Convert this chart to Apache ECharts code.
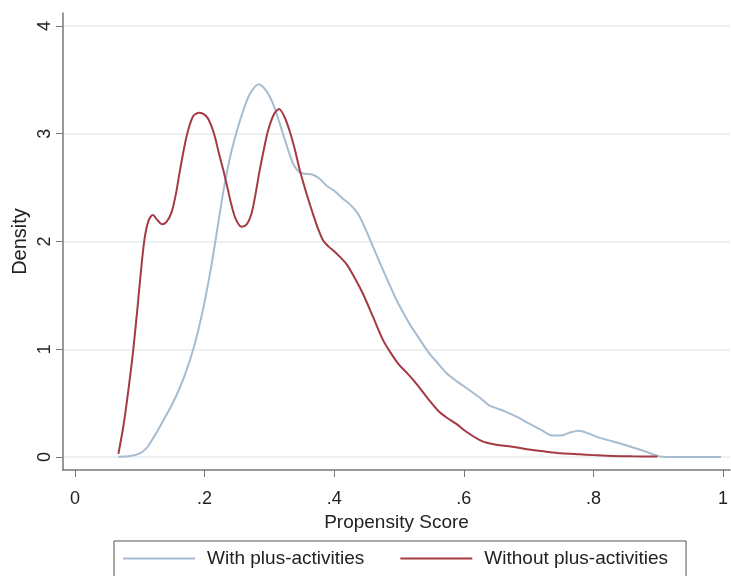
<!DOCTYPE html>
<html>
<head>
<meta charset="utf-8">
<title>Propensity score density</title>
<script src="https://cdn.jsdelivr.net/npm/echarts@6/dist/echarts.min.js"></script>
<style>
  html, body { margin: 0; padding: 0; background: #fff; }
  #densityChart { width: 731px; height: 576px; }
</style>
</head>
<body>

<!--density of the propensity score, two groups-->
<div id="densityChart"></div>

<script>
// with plus-activities
const withX = [0.067, 0.085, 0.100, 0.110, 0.120, 0.130, 0.140, 0.150, 0.160, 0.170, 0.180, 0.190,
  0.200, 0.210, 0.220, 0.230, 0.240, 0.250, 0.260, 0.270, 0.2835, 0.295, 0.3055, 0.313, 0.321,
  0.336, 0.345, 0.352, 0.367, 0.378, 0.388, 0.400, 0.413, 0.425, 0.4365, 0.448, 0.460, 0.478,
  0.496, 0.516, 0.530, 0.547, 0.560, 0.573, 0.590, 0.609, 0.625, 0.639, 0.652, 0.665, 0.683,
  0.701, 0.720, 0.737, 0.750, 0.765, 0.778, 0.792, 0.809, 0.830, 0.850, 0.866, 0.881, 0.895,
  0.906, 0.950, 0.997];
const withY = [0.003, 0.01, 0.034, 0.08, 0.17, 0.27, 0.38, 0.49, 0.62, 0.77, 0.95, 1.17,
  1.44, 1.76, 2.13, 2.50, 2.80, 3.03, 3.22, 3.37, 3.46, 3.40, 3.28, 3.15, 3.00,
  2.73, 2.65, 2.63, 2.62, 2.58, 2.52, 2.47, 2.40, 2.34, 2.26, 2.12, 1.95, 1.70,
  1.46, 1.24, 1.11, 0.96, 0.87, 0.78, 0.70, 0.62, 0.55, 0.48, 0.45, 0.42, 0.37,
  0.31, 0.25, 0.20, 0.20, 0.23, 0.245, 0.22, 0.18, 0.145, 0.11, 0.08, 0.05, 0.02,
  0.003, 0, 0];

// without plus-activities
const withoutX = [0.067, 0.075, 0.083, 0.090, 0.097, 0.103, 0.108, 0.114, 0.120, 0.127, 0.134, 0.141,
  0.149, 0.156, 0.162, 0.172, 0.182, 0.192, 0.203, 0.210, 0.216, 0.222, 0.229, 0.236, 0.241,
  0.248, 0.257, 0.265, 0.272, 0.278, 0.285, 0.292, 0.298, 0.307, 0.315, 0.323, 0.331, 0.339,
  0.347, 0.357, 0.367, 0.375, 0.383, 0.392, 0.400, 0.410, 0.419, 0.430, 0.444, 0.460, 0.475,
  0.488, 0.501, 0.514, 0.527, 0.545, 0.562, 0.575, 0.588, 0.605, 0.624, 0.637, 0.650, 0.675,
  0.700, 0.727, 0.750, 0.778, 0.800, 0.830, 0.860, 0.899];
const withoutY = [0.03, 0.30, 0.65, 1.00, 1.42, 1.80, 2.05, 2.20, 2.245, 2.20, 2.16, 2.18,
  2.27, 2.45, 2.66, 2.97, 3.16, 3.195, 3.16, 3.08, 2.97, 2.82, 2.66, 2.48, 2.35,
  2.21, 2.137, 2.16, 2.25, 2.42, 2.66, 2.87, 3.03, 3.18, 3.23, 3.16, 3.03, 2.86,
  2.66, 2.45, 2.26, 2.12, 2.01, 1.95, 1.91, 1.85, 1.79, 1.68, 1.52, 1.30, 1.09,
  0.96, 0.85, 0.77, 0.68, 0.54, 0.42, 0.36, 0.31, 0.23, 0.16, 0.13, 0.115, 0.096,
  0.07, 0.05, 0.035, 0.025, 0.018, 0.01, 0.007, 0.005];

// axis ticks
const xTicks = [0, 0.2, 0.4, 0.6, 0.8, 1];
const xTickLabels = ['0', '.2', '.4', '.6', '.8', '1'];
const yTicks = [0, 1, 2, 3, 4];
const yTickLabels = ['0', '1', '2', '3', '4'];

function tickLabel(ticks, labels) {
  return function (value) {
    const i = ticks.findIndex(t => Math.abs(t - value) < 1e-6);
    return i >= 0 ? labels[i] : '';
  };
}

const font = 'Liberation Sans, Arial, sans-serif';
const axisColor = '#777';

var chartDom = document.getElementById('densityChart');
var myChart = echarts.init(chartDom);
var option = {
  animation: false,
  backgroundColor: '#fff',
  textStyle: { fontFamily: font },
  grid: { left: 63, right: 0, top: 13, bottom: 106, containLabel: false },
  xAxis: {
    type: 'value',
    min: -0.0185,
    max: 1.0108,
    name: 'Propensity Score',
    nameLocation: 'middle',
    nameGap: 36,
    nameTextStyle: { fontSize: 19, color: '#222', fontFamily: font },
    axisLine: { show: true, onZero: false, lineStyle: { color: axisColor, width: 1.5 } },
    axisTick: { show: true, length: 7, customValues: xTicks, lineStyle: { color: axisColor } },
    axisLabel: { customValues: xTicks, margin: 20, fontSize: 18, color: '#222', formatter: tickLabel(xTicks, xTickLabels) },
    splitLine: { show: false }
  },
  yAxis: {
    type: 'value',
    min: -0.12,
    max: 4.12,
    name: 'Density',
    nameLocation: 'middle',
    nameGap: 33,
    nameMoveOverlap: false,
    nameTextStyle: { fontSize: 20, color: '#222', fontFamily: font },
    axisLine: { show: true, onZero: false, lineStyle: { color: axisColor, width: 1.5 } },
    axisTick: { show: true, length: 7, customValues: yTicks, lineStyle: { color: axisColor } },
    axisLabel: { customValues: yTicks, rotate: 90, margin: 9, fontSize: 18, color: '#222', formatter: tickLabel(yTicks, yTickLabels) },
    splitLine: { show: true, lineStyle: { color: '#e6eef1', width: 1.5 } }
  },
  legend: {
    left: 114,
    top: 541,
    padding: [8, 18, 30, 9],
    borderColor: '#555',
    borderWidth: 1,
    icon: 'rect',
    itemWidth: 72,
    itemHeight: 2,
    itemGap: 36,
    textStyle: { fontSize: 19, color: '#222', fontFamily: font, padding: [0, 0, 0, 7] },
    data: ['With plus-activities', 'Without plus-activities']
  },
  series: [
    {
      name: 'With plus-activities',
      type: 'line',
      data: withX.map((x, i) => [x, withY[i]]),
      showSymbol: false,
      smooth: 0.3,
      color: '#a6bcd0',
      lineStyle: { width: 2, color: '#a6bcd0' }
    },
    {
      name: 'Without plus-activities',
      type: 'line',
      data: withoutX.map((x, i) => [x, withoutY[i]]),
      showSymbol: false,
      smooth: 0.3,
      color: '#a53a44',
      lineStyle: { width: 2, color: '#a53a44' }
    }
  ]
};
option && myChart.setOption(option);
</script>
</body>
</html>
